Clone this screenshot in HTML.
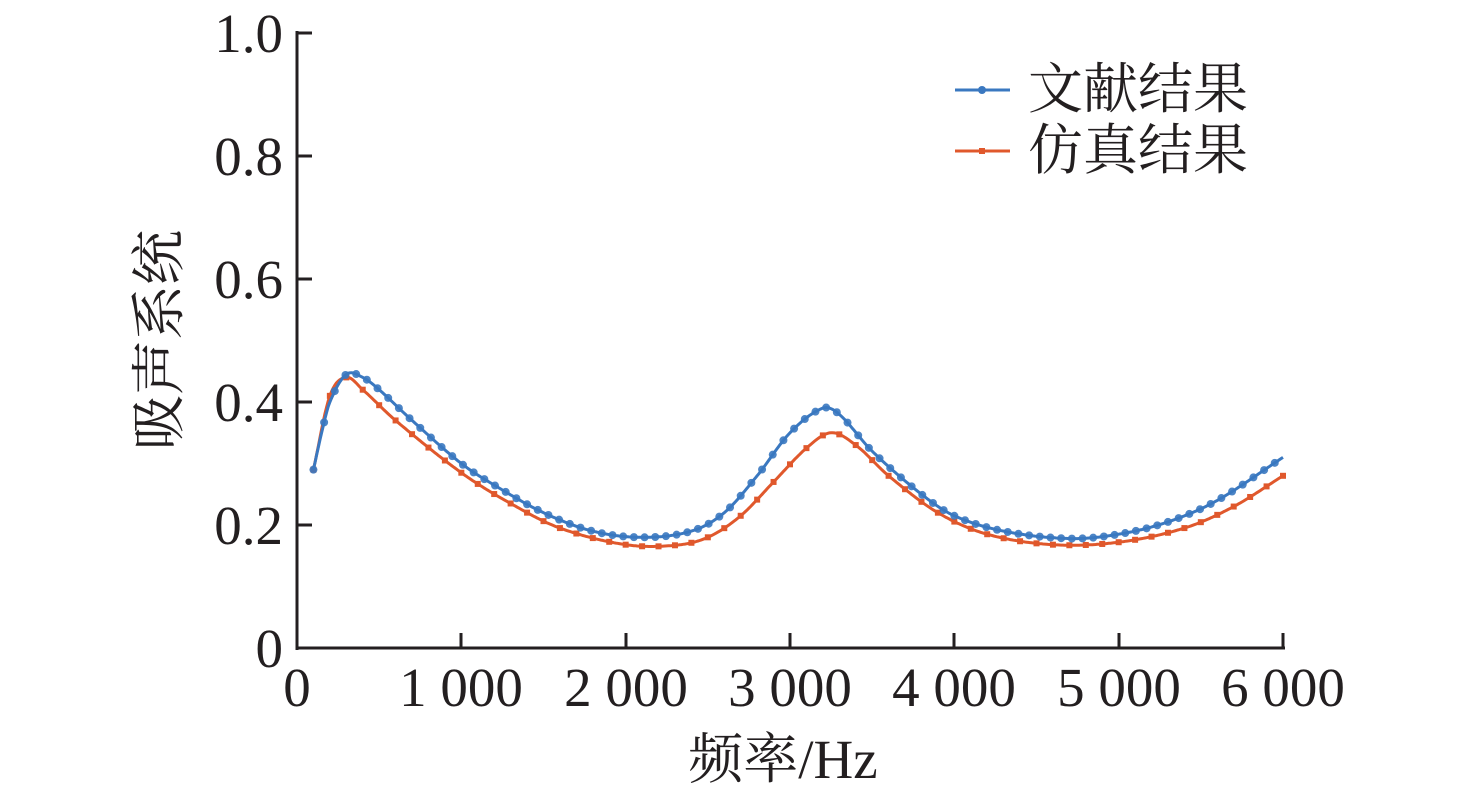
<!DOCTYPE html><html><head><meta charset="utf-8"><style>body{margin:0;background:#fff}svg{display:block}</style></head><body>
<svg id="s" width="1476" height="793" xmlns="http://www.w3.org/2000/svg" font-family="'Liberation Serif','Noto Serif CJK SC',serif" fill="#231f20">
<line x1="297" y1="31" x2="297" y2="650" stroke="#231f20" stroke-width="3"/>
<line x1="296" y1="648" x2="1285" y2="648" stroke="#231f20" stroke-width="3"/>
<g stroke="#231f20" stroke-width="3">
<line x1="297" y1="33" x2="312" y2="33"/><line x1="297" y1="156" x2="312" y2="156"/><line x1="297" y1="279" x2="312" y2="279"/><line x1="297" y1="402" x2="312" y2="402"/><line x1="297" y1="525" x2="312" y2="525"/>
<line x1="461" y1="648" x2="461" y2="633"/><line x1="626" y1="648" x2="626" y2="633"/><line x1="790" y1="648" x2="790" y2="633"/><line x1="954" y1="648" x2="954" y2="633"/><line x1="1119" y1="648" x2="1119" y2="633"/><line x1="1283" y1="648" x2="1283" y2="633"/>
</g>
<g font-size="55" text-anchor="end">
<text x="283" y="52">1.0</text><text x="283" y="175">0.8</text><text x="283" y="298">0.6</text><text x="283" y="421">0.4</text><text x="283" y="544">0.2</text><text x="283" y="667">0</text>
</g>
<g font-size="55" text-anchor="middle">
<text x="297" y="706">0</text><text x="461" y="706">1 000</text><text x="626" y="706">2 000</text><text x="790" y="706">3 000</text><text x="954" y="706">4 000</text><text x="1119" y="706">5 000</text><text x="1283" y="706">6 000</text>
<text x="783" y="778">频率/Hz</text>
<text transform="translate(178,340) rotate(-90)">吸声系统</text>
</g>
<g font-size="55"><text x="1028" y="108">文献结果</text><text x="1028" y="169">仿真结果</text></g>
<line x1="955" y1="90" x2="1010" y2="90" stroke="#3a78c0" stroke-width="3"/><circle cx="982" cy="90" r="4" fill="#3a78c0"/>
<line x1="955" y1="151" x2="1010" y2="151" stroke="#e0582c" stroke-width="3"/><rect x="979" y="148" width="6" height="6" fill="#e0582c"/>
<g id="g"></g>
</svg>
<script>
function X(f){return 297+f*(1283-297)/6000}function Y(v){return 648-v*615}
function interp(pts,f){for(var i=0;i<pts.length-1;i++){if(f<=pts[i+1][0]){var p0=pts[Math.max(i-1,0)],p1=pts[i],p2=pts[i+1],p3=pts[Math.min(i+2,pts.length-1)];var t=(f-p1[0])/(p2[0]-p1[0]);var m1=(p2[1]-p0[1])/(p2[0]-p0[0])*(p2[0]-p1[0]);var m2=(p3[1]-p1[1])/(p3[0]-p1[0])*(p2[0]-p1[0]);var t2=t*t,t3=t2*t;return (2*t3-3*t2+1)*p1[1]+(t3-2*t2+t)*m1+(-2*t3+3*t2)*p2[1]+(t3-t2)*m2;}}return pts[pts.length-1][1]}
var B=[[100,0.29],[150,0.35],[200,0.40],[300,0.445],[400,0.44],[500,0.42],[700,0.37],[1000,0.30],[1200,0.265],[1500,0.22],[1800,0.19],[2100,0.18],[2400,0.19],[2600,0.22],[2800,0.28],[3000,0.35],[3200,0.39],[3300,0.38],[3500,0.32],[3800,0.25],[4000,0.215],[4300,0.19],[4700,0.178],[5000,0.185],[5300,0.205],[5600,0.24],[6000,0.31]];
var R=[[100,0.29],[200,0.41],[300,0.44],[400,0.42],[600,0.37],[1000,0.285],[1300,0.235],[1600,0.195],[2000,0.168],[2300,0.167],[2500,0.18],[2700,0.215],[2900,0.27],[3100,0.325],[3250,0.35],[3400,0.33],[3600,0.28],[3900,0.22],[4200,0.185],[4600,0.168],[5000,0.172],[5400,0.195],[5700,0.23],[6000,0.28]];
var g=document.getElementById('g'),h='';
function draw(P,c,step,sq){var d='';for(var f=100;f<=6000;f+=10){d+=(f==100?'M':'L')+X(f).toFixed(1)+','+Y(interp(P,f)).toFixed(1)}h+='<path d="'+d+'" fill="none" stroke="'+c+'" stroke-width="3"/>';for(var f=100;f<=6000;f+=step){var x=X(f),y=Y(interp(P,f));h+=sq?'<rect x="'+(x-3)+'" y="'+(y-3)+'" width="6" height="6" fill="'+c+'"/>':'<circle cx="'+x+'" cy="'+y+'" r="4" fill="'+c+'" opacity="0.9"/>'}}
draw(R,'#e0582c',100,true);draw(B,'#3a78c0',65,false);
g.innerHTML=h;
</script>
</body></html>
